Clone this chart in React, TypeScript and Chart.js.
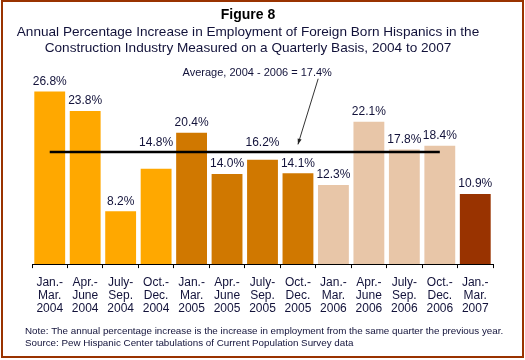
import React, { useEffect, useRef } from "react";
import { Chart, registerables } from "chart.js";

Chart.register(...registerables);

const categories: string[][] = [
  ["Jan.-", "Mar.", "2004"],
  ["Apr.-", "June", "2004"],
  ["July-", "Sep.", "2004"],
  ["Oct.-", "Dec.", "2004"],
  ["Jan.-", "Mar.", "2005"],
  ["Apr.-", "June", "2005"],
  ["July-", "Sep.", "2005"],
  ["Oct.-", "Dec.", "2005"],
  ["Jan.-", "Mar.", "2006"],
  ["Apr.-", "June", "2006"],
  ["July-", "Sep.", "2006"],
  ["Oct.-", "Dec.", "2006"],
  ["Jan.-", "Mar.", "2007"],
];
const increases: number[] = [26.8, 23.8, 8.2, 14.8, 20.4, 14.0, 16.2, 14.1, 12.3, 22.1, 17.8, 18.4, 10.9];
const years: string[] = ["2004", "2004", "2004", "2004", "2005", "2005", "2005", "2005", "2006", "2006", "2006", "2006", "2007"];
const yearColors: Record<string, string> = {
  "2004": "#FFA800",
  "2005": "#D07800",
  "2006": "#E8C6A8",
  "2007": "#993300",
};
const averageValue = 17.4;
const averageCount = 12; // 2004 - 2006 quarters
const averageLabel = "Average, 2004 - 2006 = 17.4%";
const titleText = "Figure 8";
const subtitleLines = [
  "Annual Percentage Increase in Employment of Foreign Born Hispanics in the",
  "Construction Industry Measured on a Quarterly Basis, 2004 to 2007",
];
const noteLines = [
  "Note: The annual percentage increase is the increase in employment from the same quarter the previous year.",
  "Source: Pew Hispanic Center tabulations of Current Population Survey data",
];

const FONT = "'Liberation Sans', Arial, sans-serif";
const TEXT = "#12123a";

const decorPlugin = {
  id: "decor",
  afterDraw(chart: any) {
    const ctx = chart.ctx;
    const xs = chart.scales.x;
    const ys = chart.scales.y;
    ctx.save();
    // value labels
    const meta = chart.getDatasetMeta(0);
    const avgY = ys.getPixelForValue(averageValue);
    ctx.fillStyle = TEXT;
    ctx.font = `12px ${FONT}`;
    ctx.textAlign = "center";
    ctx.textBaseline = "bottom";
    meta.data.forEach((bar: any, i: number) => {
      let y = bar.y - 4;
      // lift a label clear of the average line when they would overlap
      if (i < averageCount && y > avgY && y - 13 < avgY + 2) y = avgY - 3;
      ctx.fillText(increases[i].toFixed(1) + "%", bar.x, y);
    });
    // titles
    ctx.fillStyle = "#000";
    ctx.font = `bold 14px ${FONT}`;
    ctx.textBaseline = "middle";
    ctx.fillText(titleText, 248, 15);
    ctx.font = `13.6px ${FONT}`;
    ctx.fillStyle = TEXT;
    subtitleLines.forEach((l, i) => ctx.fillText(l, 248, 32 + i * 16));
    // annotation
    ctx.font = `11px ${FONT}`;
    const tx = xs.getPixelForValue(5.85);
    const ty = ys.getPixelForValue(29.7);
    ctx.fillText(averageLabel, tx, ty);
    const x1 = xs.getPixelForValue(7.57), y1 = ys.getPixelForValue(28.8);
    const x2 = xs.getPixelForValue(7.0), y2 = ys.getPixelForValue(18.6);
    ctx.strokeStyle = "#333";
    ctx.lineWidth = 1;
    ctx.beginPath();
    ctx.moveTo(x1, y1);
    ctx.lineTo(x2, y2);
    ctx.stroke();
    const ang = Math.atan2(y2 - y1, x2 - x1);
    ctx.fillStyle = "#222";
    ctx.beginPath();
    ctx.moveTo(x2, y2);
    ctx.lineTo(x2 - 6 * Math.cos(ang - 0.35), y2 - 6 * Math.sin(ang - 0.35));
    ctx.lineTo(x2 - 6 * Math.cos(ang + 0.35), y2 - 6 * Math.sin(ang + 0.35));
    ctx.closePath();
    ctx.fill();
    // notes
    ctx.fillStyle = TEXT;
    ctx.font = `9.8px ${FONT}`;
    ctx.textAlign = "left";
    noteLines.forEach((l, i) => ctx.fillText(l, 25, 331 + i * 12.5));
    // border
    ctx.strokeStyle = "#993300";
    ctx.lineWidth = 2;
    ctx.strokeRect(2, 1, 521, 356);
    ctx.restore();
  },
};

export default function App() {
  const ref = useRef<HTMLCanvasElement>(null);
  useEffect(() => {
    if (!ref.current) return;
    const chart = new Chart(ref.current, {
      type: "bar",
      data: {
        labels: categories,
        datasets: [
          {
            type: "bar",
            data: increases,
            backgroundColor: years.map((y) => yearColors[y]),
            barPercentage: 0.87,
            categoryPercentage: 1,
            order: 2,
          },
          {
            type: "line",
            data: increases.map((_, i) => (i < averageCount ? averageValue : null)),
            borderColor: "#000",
            borderWidth: 2.5,
            pointRadius: 0,
            fill: false,
            order: 1,
          } as any,
        ],
      },
      options: {
        animation: false,
        responsive: false,
        layout: { padding: { left: 32, right: 32, top: 71, bottom: 37 } },
        plugins: { legend: { display: false }, tooltip: { enabled: false }, title: { display: false } },
        scales: {
          y: { display: false, min: 0, max: 30 },
          x: {
            offset: true,
            border: { display: true, color: "#000", width: 1 },
            grid: { display: true, drawOnChartArea: false, drawTicks: true, tickLength: 4, color: "#000", offset: true },
            ticks: { color: TEXT, font: { family: FONT, size: 12, lineHeight: 1.08 }, padding: 8, maxRotation: 0, autoSkip: false },
          },
        },
      },
      plugins: [decorPlugin],
    });
    return () => chart.destroy();
  }, []);
  return (
    <div style={{ position: "fixed", left: 0, top: 0, width: 525, height: 360, background: "#fff" }}>
      <canvas ref={ref} width={525} height={360} style={{ width: 525, height: 360 }} />
    </div>
  );
}
